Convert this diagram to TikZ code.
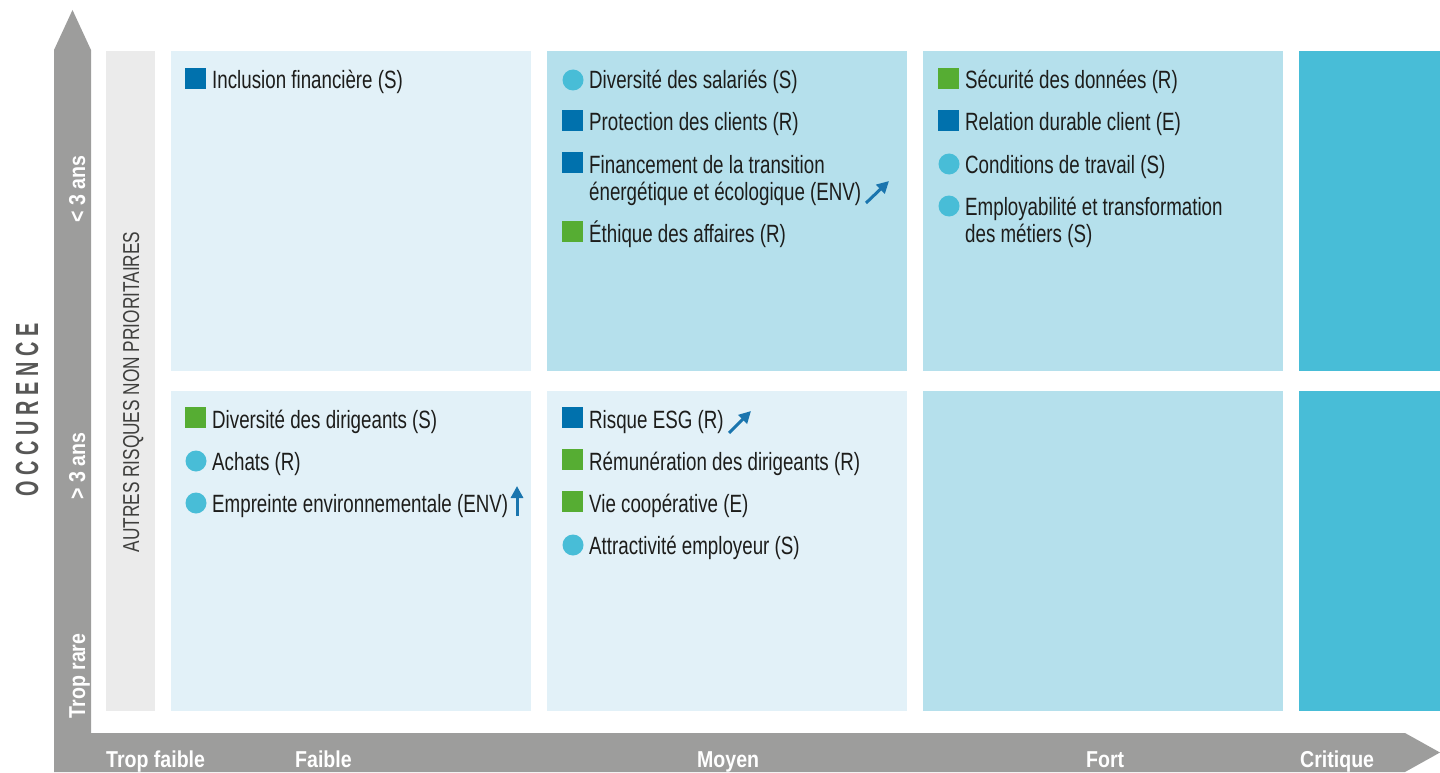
\documentclass[tikz,border=0pt]{standalone}
\usepackage{fontspec}
\setmainfont{Liberation Sans}[FakeStretch=0.75]
\newfontfamily\axisfont{Liberation Sans}[FakeStretch=0.85]
\newfontfamily\occfont{Liberation Sans}[FakeStretch=0.62,LetterSpace=18]
\usepackage{xcolor}
\usetikzlibrary{positioning,arrows.meta}

\definecolor{axisgray}{HTML}{9D9D9C}
\definecolor{autresgray}{HTML}{EBEBEB}
\definecolor{cellpale}{HTML}{E2F1F8}
\definecolor{cellmid}{HTML}{B5E0EC}
\definecolor{cellcrit}{HTML}{48BDD7}
\definecolor{sqblue}{HTML}{0071AD}
\definecolor{sqgreen}{HTML}{56AD33}
\definecolor{dotblue}{HTML}{48BDD7}
\definecolor{trendblue}{HTML}{1A75AE}
\definecolor{ink}{HTML}{1D1D1B}
\definecolor{occgray}{HTML}{575756}

\tikzset{
  cell/.style={anchor=north west,minimum width=360pt,minimum height=320pt,
    inner sep=0pt,outer sep=0pt},
  item/.style={anchor=base west,inner sep=0pt,text=ink,align=left,
    font=\fontsize{25}{27}\selectfont},
  sq/.style={fill=#1,minimum size=21pt,inner sep=0pt,anchor=south east},
  dot/.style={circle,fill=dotblue,minimum size=21pt,inner sep=0pt},
  axislabel/.style={inner sep=0pt,text=white,font=\axisfont\bfseries\fontsize{23}{23}\selectfont},
  trend/.style={draw=trendblue,line width=3pt,-{Triangle[length=12pt,width=12pt]}}
}

\begin{document}
\begin{tikzpicture}[x=1pt,y=-1pt]
    \useasboundingbox (0,0) rectangle (1440,773);
    % axes
    \fill[axisgray] (54,772) -- (54,50) -- (72.5,10) -- (91,50) -- (91,733)
      -- (1405,733) -- (1440,752.5) -- (1405,772) -- cycle;
    \node[axislabel,rotate=90,anchor=base] (lt3)   at (85,189) {< 3 ans};
    \node[axislabel,rotate=90,anchor=base] (gt3)   at (85,466) {> 3 ans};
    \node[axislabel,rotate=90,anchor=base] (rare)  at (85,676) {Trop rare};
    \node[axislabel,anchor=base west] (tfaible)  at (106,767)  {Trop faible};
    \node[axislabel,anchor=base west] (faible)   at (295,767)  {Faible};
    \node[axislabel,anchor=base west] (moyen)    at (697,767)  {Moyen};
    \node[axislabel,anchor=base west] (fort)     at (1086,767) {Fort};
    \node[axislabel,anchor=base west] (critique) at (1300,767) {Critique};
    \node[rotate=90,anchor=base,inner sep=0pt,text=occgray,
      font=\occfont\bfseries\fontsize{32}{32}\selectfont] (occ) at (38,410) {OCCURENCE};

    % cells
    \node[fill=autresgray,anchor=north west,minimum width=49pt,minimum height=660pt,
      inner sep=0pt] (autres) at (106,51) {};
    \node[rotate=90,anchor=base,inner sep=0pt,text=ink!85,
      font=\fontsize{23}{23}\selectfont] (autres-txt) at (139,392)
      {AUTRES RISQUES NON PRIORITAIRES};
    \node[cell,fill=cellpale] (faible1) at (171,51) {};
    \node[cell,fill=cellmid]  (moyen1) [right=16pt of faible1] {};
    \node[cell,fill=cellmid]  (fort1)  [right=16pt of moyen1] {};
    \node[cell,fill=cellcrit,minimum width=141pt] (crit1) [right=16pt of fort1] {};
    \node[cell,fill=cellpale] (faible2) [below=20pt of faible1] {};
    \node[cell,fill=cellpale] (moyen2) [right=16pt of faible2] {};
    \node[cell,fill=cellmid]  (fort2)  [right=16pt of moyen2] {};
    \node[cell,fill=cellcrit,minimum width=141pt] (crit2) [right=16pt of fort2] {};

    % faible, < 3 ans
    \node[item] (inclus) at (212,89) {Inclusion financière (S)};
    \node[sq=sqblue] (inclus-m) at ([xshift=-6pt]inclus.base west) {};
    % moyen, < 3 ans
    \node[item] (divsal) at (589,89) {Diversité des salariés (S)};
    \node[dot] (divsal-m) at ([shift={(-16pt,9pt)}]divsal.base west) {};
    \node[item] (protec) at (589,131) {Protection des clients (R)};
    \node[sq=sqblue] (protec-m) at ([xshift=-6pt]protec.base west) {};
    \node[item] (financ) at (589,200) {Financement de la transition\\énergétique et écologique (ENV)};
    \node[sq=sqblue] (financ-m) at ([shift={(-6pt,27pt)}]financ.base west) {};
    \node[item] (ethique) at (589,242) {Éthique des affaires (R)};
    \node[sq=sqgreen] (ethique-m) at ([xshift=-6pt]ethique.base west) {};
    % fort, < 3 ans
    \node[item] (secur) at (965,89) {Sécurité des données (R)};
    \node[sq=sqgreen] (secur-m) at ([xshift=-6pt]secur.base west) {};
    \node[item] (relat) at (965,131) {Relation durable client (E)};
    \node[sq=sqblue] (relat-m) at ([xshift=-6pt]relat.base west) {};
    \node[item] (condit) at (965,173) {Conditions de travail (S)};
    \node[dot] (condit-m) at ([shift={(-16pt,9pt)}]condit.base west) {};
    \node[item] (employ) at (965,242) {Employabilité et transformation\\des métiers (S)};
    \node[dot] (employ-m) at ([shift={(-16pt,36pt)}]employ.base west) {};

    % faible, > 3 ans
    \node[item] (divdir) at (212,428) {Diversité des dirigeants (S)};
    \node[sq=sqgreen] (divdir-m) at ([xshift=-6pt]divdir.base west) {};
    \node[item] (achats) at (212,470) {Achats (R)};
    \node[dot] (achats-m) at ([shift={(-16pt,9pt)}]achats.base west) {};
    \node[item] (empr) at (212,512) {Empreinte environnementale (ENV)};
    \node[dot] (empr-m) at ([shift={(-16pt,9pt)}]empr.base west) {};
    % moyen, > 3 ans
    \node[item] (esg) at (589,428) {Risque ESG (R)};
    \node[sq=sqblue] (esg-m) at ([xshift=-6pt]esg.base west) {};
    \node[item] (remun) at (589,470) {Rémunération des dirigeants (R)};
    \node[sq=sqgreen] (remun-m) at ([xshift=-6pt]remun.base west) {};
    \node[item] (coop) at (589,512) {Vie coopérative (E)};
    \node[sq=sqgreen] (coop-m) at ([xshift=-6pt]coop.base west) {};
    \node[item] (attrac) at (589,554) {Attractivité employeur (S)};
    \node[dot] (attrac-m) at ([shift={(-16pt,9pt)}]attrac.base west) {};

    % trends
    \coordinate (financ-a) at (866,203);
    \coordinate (financ-b) at (889,181);
    \coordinate (esg-a) at (729,433);
    \coordinate (esg-b) at (751,411);
    \coordinate (empr-a) at (517,516);
    \coordinate (empr-b) at (517,486);
    \draw[trend] (financ-a) -- (financ-b);
    \draw[trend] (esg-a) -- (esg-b);
    \draw[trend] (empr-a) -- (empr-b);
\end{tikzpicture}
\end{document}
